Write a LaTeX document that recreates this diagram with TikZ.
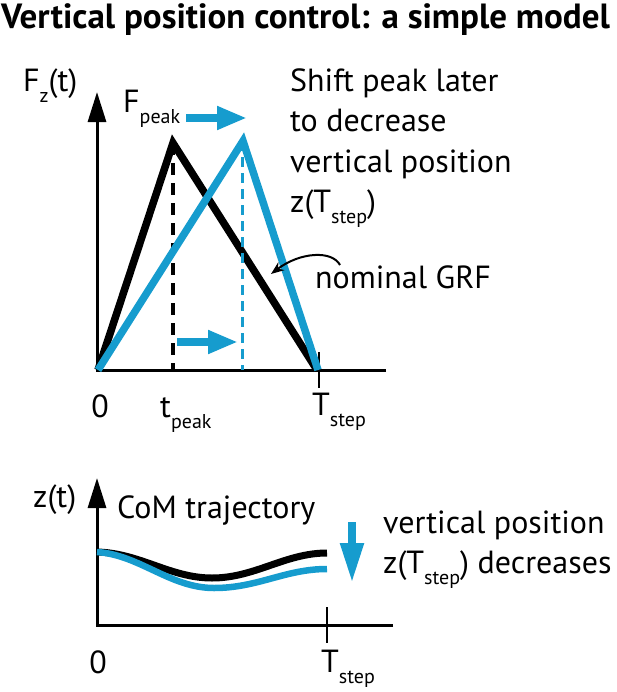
\documentclass[tikz,border=0pt]{standalone}
\usepackage{fontspec}
\setmainfont{PT Sans}
\usetikzlibrary{arrows.meta}
\definecolor{grfblue}{RGB}{22,156,206}
\newcommand{\lowsub}[1]{\raisebox{-11bp}{\fontsize{20bp}{20bp}\selectfont #1}}

\begin{document}
\begin{tikzpicture}[x=1bp,y=-1bp,
  axis/.style={line width=3bp},
  tick/.style={line width=2.5bp},
  lbl/.style={inner sep=0pt,anchor=base west,font=\fontsize{32bp}{40bp}\selectfont},
  grf/.style={line width=7.5bp},
  bluearrow/.style={grfblue,line width=8bp,-{Triangle[length=30bp,width=22bp]}}]
  \useasboundingbox (0,0) rectangle (617,692);
  % title
  \node[lbl,font=\fontsize{35bp}{40bp}\selectfont\bfseries] (title) at (1,29)
    {Vertical position control: a simple model};

  % upper plot: force against time
  \draw[axis,-{Triangle[length=30bp,width=18bp]}] (386,370) -- (97,370) -- (97,92);
  \draw[tick] (319,352) -- (319,388);
  \draw[grf] (98,370) -- (173,143) -- (317,370);
  \draw[line width=4bp,dash pattern=on 12bp off 8bp] (173,143) -- (173,370);
  \draw[grf,grfblue] (98,370) -- (243,141) -- (318,370);
  \draw[line width=3bp,grfblue,dash pattern=on 10bp off 6bp] (242,141) -- (242,370);
  \draw[bluearrow] (186,118) -- (247,118);
  \draw[bluearrow] (177,342) -- (238,342);

  \node[lbl] (fz) at (23,92) {F\lowsub{z}(t)};
  \node[lbl] (fpeak) at (123,113) {F\lowsub{peak}};
  \node[lbl] (shift1) at (290,92) {Shift peak later};
  \node[lbl] (shift2) at (290,132) {to decrease};
  \node[lbl] (shift3) at (290,172) {vertical position};
  \node[lbl] (shift4) at (290,212) {z(T\lowsub{step})};
  \node[lbl] (nominal) at (315,288) {nominal GRF};
  \coordinate (grftip) at (271,274);
  \draw[line width=2bp,-{Stealth[length=13bp,width=10bp]}]
    ([xshift=25bp]nominal.north west) .. controls (332,250) and (300,252) .. (grftip);
  \node[lbl,anchor=base] (zero1) at (100,417) {0};
  \node[lbl] (tpeak) at (160,417) {t\lowsub{peak}};
  \node[lbl] (tstep1) at (312,415) {T\lowsub{step}};

  % lower plot: height of the CoM
  \draw[axis,-{Triangle[length=30bp,width=18bp]}] (393,625) -- (97,625) -- (97,478);
  \draw[tick] (327,607) -- (327,643);
  \draw[line width=7bp] (97,552) .. controls (140,553) and (170,578) .. (212,578)
    .. controls (255,578) and (285,553) .. (327,553);
  \draw[line width=6.5bp,grfblue] (97,552) .. controls (140,555) and (170,588) .. (214,588)
    .. controls (258,588) and (285,569) .. (327,569);
  \draw[grfblue,line width=8bp,-{Triangle[length=40bp,width=22bp]}] (352,522) -- (352,583);

  \node[lbl] (zt) at (33,507) {z(t)};
  \node[lbl] (com) at (117,518) {CoM trajectory};
  \node[lbl] (vert) at (383,533) {vertical position};
  \node[lbl] (decr) at (383,573) {z(T\lowsub{step}) decreases};
  \node[lbl,anchor=base] (zero2) at (98,673) {0};
  \node[lbl] (tstep2) at (321,672) {T\lowsub{step}};
\end{tikzpicture}
\end{document}
